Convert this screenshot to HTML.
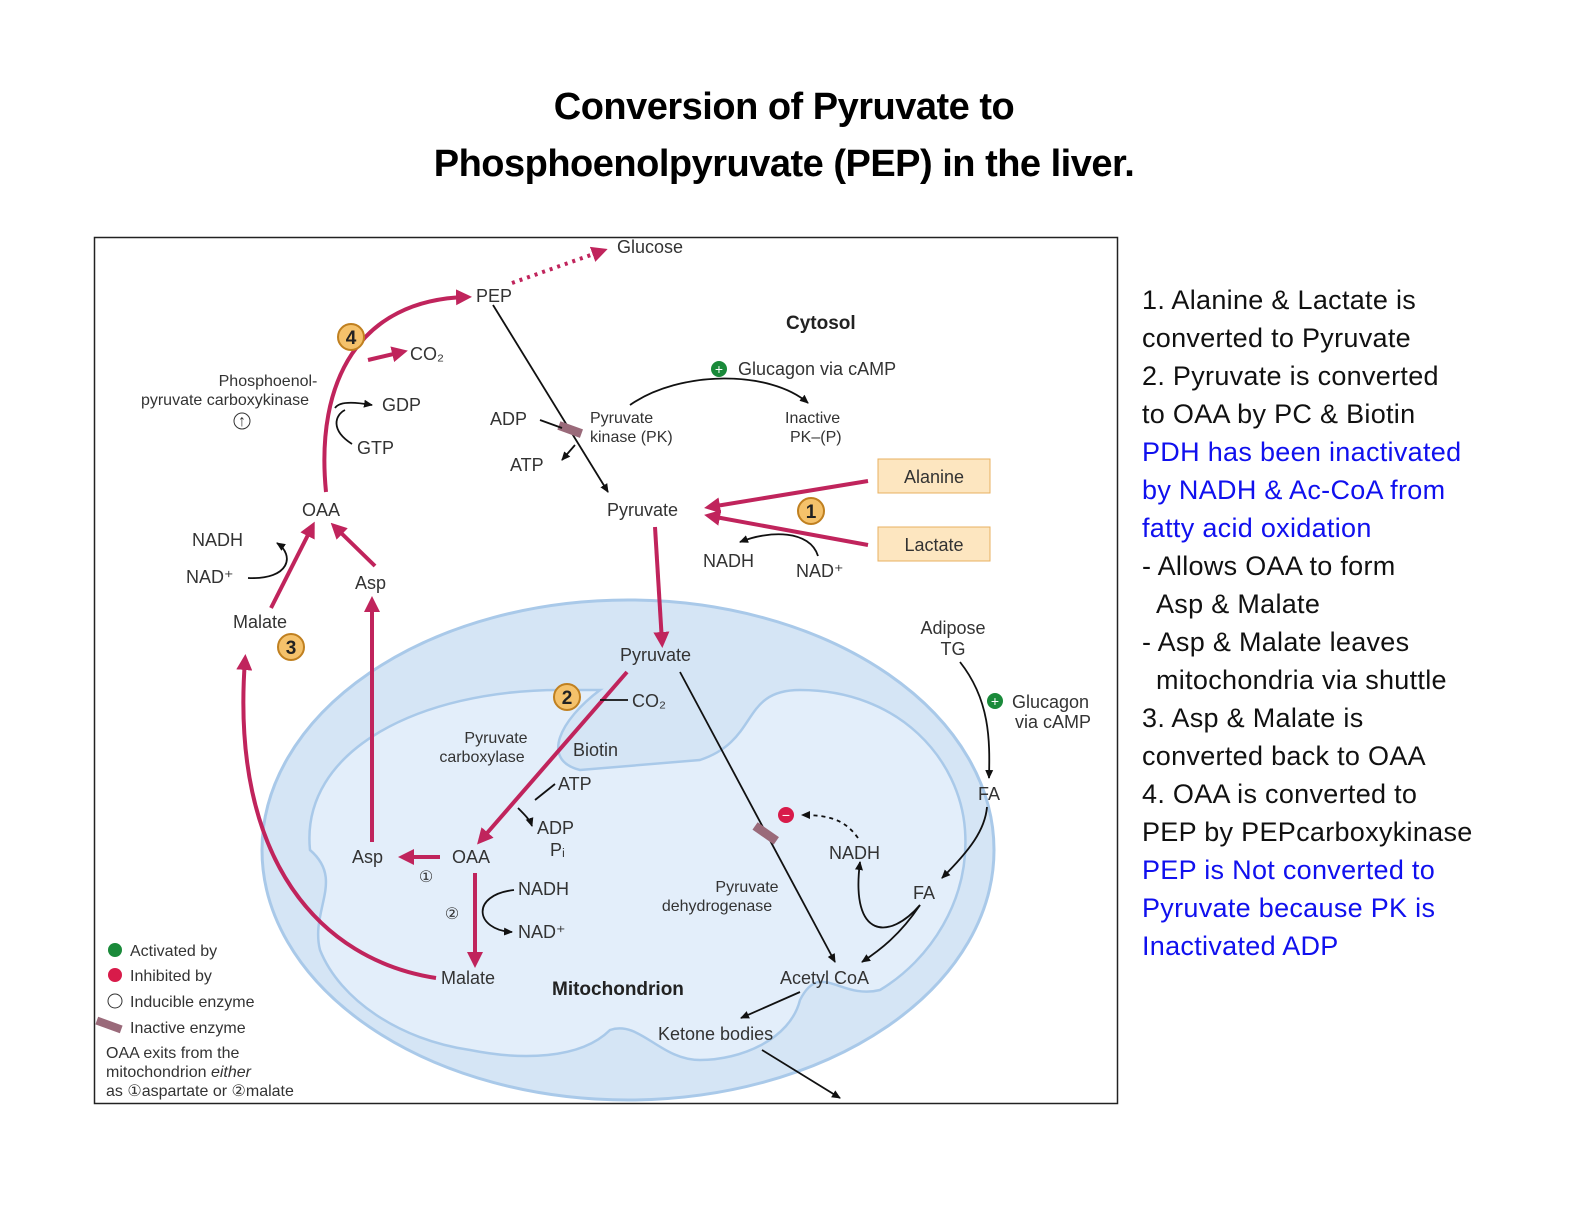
<!DOCTYPE html>
<html><head><meta charset="utf-8"><style>
html,body{margin:0;padding:0;background:#fff;}
svg{display:block;}
.t{font-family:"Liberation Sans",sans-serif;font-size:18px;fill:#333;}
.s{font-family:"Liberation Sans",sans-serif;font-size:16px;fill:#333;}
.b{font-family:"Liberation Sans",sans-serif;font-size:19px;font-weight:bold;fill:#222;}
.r{font-family:"Liberation Sans",sans-serif;font-size:27px;fill:#111;letter-spacing:0.3px;}
.bl{fill:#1010ee;}
.m{stroke:#c0245c;stroke-width:4;fill:none;}
.k{stroke:#111;stroke-width:1.8;fill:none;}
</style></head><body>
<svg width="1584" height="1224" viewBox="0 0 1584 1224" xmlns="http://www.w3.org/2000/svg">
<defs>
<marker id="ma" markerWidth="4" markerHeight="4" refX="2.5" refY="2" orient="auto" markerUnits="strokeWidth"><path d="M0,0 L4,2 L0,4 z" fill="#c0245c"/></marker>
<marker id="ka" markerWidth="10" markerHeight="10" refX="8" refY="5" orient="auto" markerUnits="userSpaceOnUse"><path d="M0,1 L9,5 L0,9 z" fill="#111"/></marker>
</defs>
<g>
<text x="784" y="119" text-anchor="middle" style="font-family:'Liberation Sans',sans-serif;font-weight:bold;font-size:38px;letter-spacing:-0.5px" fill="#000">Conversion of Pyruvate to</text>
<text x="784" y="176" text-anchor="middle" style="font-family:'Liberation Sans',sans-serif;font-weight:bold;font-size:38px;letter-spacing:-0.5px" fill="#000">Phosphoenolpyruvate (PEP) in the liver.</text>
</g>
<rect x="94.5" y="237.5" width="1023" height="866" fill="#fff" stroke="#222" stroke-width="1.5"/>
<g>
<ellipse cx="628" cy="850" rx="366" ry="250" fill="#d5e5f5" stroke="#a9c9e9" stroke-width="3"/>
<path d="M310,850 C300,750 420,690 560,690 L600,690 C560,720 540,760 580,770 L700,760 C760,740 740,690 800,690 C900,690 960,760 965,830 C970,900 930,960 880,990 C840,1000 820,960 800,1000 C790,1040 740,1060 700,1060 C660,1060 640,1020 610,1030 C580,1060 520,1060 470,1050 C400,1040 340,1000 320,950 C310,910 345,880 310,850 Z" fill="#e3eefa" stroke="#a9c9e9" stroke-width="2.5"/>
</g>
<g>
<path d="M512,283 L602,251" stroke="#c0245c" stroke-width="4" stroke-dasharray="3,5" fill="none" marker-end="url(#ma)"/>
<path class="m" d="M326,492 C315,380 360,300 466,297" marker-end="url(#ma)"/>
<path class="m" d="M368,360 L402,352" marker-end="url(#ma)"/>
<path class="k" d="M335,408 C340,400 360,403 372,405" marker-end="url(#ka)"/>
<path class="k" d="M352,444 C330,430 335,415 345,410"/>
<path class="k" d="M493,305 L608,492" marker-end="url(#ka)"/>
<rect x="558" y="425" width="24" height="9" fill="#9a6a7a" transform="rotate(20 570 430)"/>
<path class="k" d="M540,420 L562,428"/>
<path class="k" d="M575,445 L562,460" marker-end="url(#ka)"/>
<path class="k" d="M630,405 C680,370 770,370 808,403" marker-end="url(#ka)"/>
<path class="m" d="M868,481 L710,507" marker-end="url(#ma)"/>
<path class="m" d="M868,545 L710,516" marker-end="url(#ma)"/>
<path class="k" d="M818,556 C810,530 770,530 740,542" marker-end="url(#ka)"/>
<path class="m" d="M271,608 L312,527" marker-end="url(#ma)"/>
<path class="m" d="M375,566 L335,527" marker-end="url(#ma)"/>
<path class="k" d="M248,578 C290,580 295,555 277,543" marker-end="url(#ka)"/>
<path class="m" d="M372,842 L372,602" marker-end="url(#ma)"/>
<path class="m" d="M436,978 C320,960 230,860 245,660" marker-end="url(#ma)"/>
<path class="m" d="M655,527 L662,642" marker-end="url(#ma)"/>
<path class="m" d="M627,672 L481,840" marker-end="url(#ma)"/>
<path class="k" d="M600,700 L628,700"/>
<path class="k" d="M555,784 L535,800"/>
<path class="k" d="M518,808 C525,815 530,820 532,826" marker-end="url(#ka)"/>
<path class="m" d="M440,857 L404,857" marker-end="url(#ma)"/>
<path class="m" d="M475,873 L475,962" marker-end="url(#ma)"/>
<path class="k" d="M514,890 C470,895 475,930 512,932" marker-end="url(#ka)"/>
<path class="k" d="M680,672 L835,962" marker-end="url(#ka)"/>
<rect x="753" y="829" width="26" height="9" fill="#9a6a7a" transform="rotate(35 766 833)"/>
<path d="M858,838 C845,820 830,815 802,815" stroke="#111" stroke-width="1.8" fill="none" stroke-dasharray="4,4" marker-end="url(#ka)"/>
<path class="k" d="M920,905 C890,940 850,940 860,862" marker-end="url(#ka)"/>
<path class="k" d="M920,905 C900,935 880,950 862,962" marker-end="url(#ka)"/>
<path class="k" d="M960,662 C990,700 990,740 989,778" marker-end="url(#ka)"/>
<path class="k" d="M987,807 C985,830 970,850 942,878" marker-end="url(#ka)"/>
<path class="k" d="M800,992 L741,1018" marker-end="url(#ka)"/>
<path class="k" d="M762,1050 L840,1098" marker-end="url(#ka)"/>
</g>
<g>
<circle cx="351" cy="337" r="13" fill="#f5c26b" stroke="#c08020" stroke-width="2"/><text class="b" x="351" y="344" text-anchor="middle">4</text>
<circle cx="811" cy="511" r="13" fill="#f5c26b" stroke="#c08020" stroke-width="2"/><text class="b" x="811" y="518" text-anchor="middle">1</text>
<circle cx="291" cy="647" r="13" fill="#f5c26b" stroke="#c08020" stroke-width="2"/><text class="b" x="291" y="654" text-anchor="middle">3</text>
<circle cx="567" cy="697" r="13" fill="#f5c26b" stroke="#c08020" stroke-width="2"/><text class="b" x="567" y="704" text-anchor="middle">2</text>
</g>
<g>
<rect x="878" y="459" width="112" height="34" fill="#fde6c0" stroke="#e8b060"/>
<rect x="878" y="527" width="112" height="34" fill="#fde6c0" stroke="#e8b060"/>
<text class="t" x="934" y="483" text-anchor="middle">Alanine</text>
<text class="t" x="934" y="551" text-anchor="middle">Lactate</text>
</g>
<g>
<text class="t" x="617" y="253">Glucose</text>
<text class="t" x="476" y="302">PEP</text>
<text class="t" x="410" y="360">CO₂</text>
<text class="t" x="382" y="411">GDP</text>
<text class="t" x="357" y="454">GTP</text>
<text class="s" x="268" y="386" text-anchor="middle">Phosphoenol-</text>
<text class="s" x="225" y="405" text-anchor="middle">pyruvate carboxykinase</text>
<circle cx="242" cy="421" r="8" fill="none" stroke="#333"/><text class="s" x="242" y="426" text-anchor="middle" font-size="12">↑</text>
<text class="b" x="786" y="329">Cytosol</text>
<circle cx="719" cy="369" r="8" fill="#1a8a3a"/><text x="719" y="374" text-anchor="middle" fill="#fff" font-size="14" font-family="Liberation Sans">+</text>
<text class="t" x="738" y="375">Glucagon via cAMP</text>
<text class="t" x="490" y="425">ADP</text>
<text class="t" x="510" y="471">ATP</text>
<text class="s" x="590" y="423">Pyruvate</text>
<text class="s" x="590" y="442">kinase (PK)</text>
<text class="s" x="785" y="423">Inactive</text>
<text class="s" x="790" y="442">PK–(P)</text>
<text class="t" x="607" y="516">Pyruvate</text>
<text class="t" x="703" y="567">NADH</text>
<text class="t" x="796" y="577">NAD⁺</text>
<text class="t" x="302" y="516">OAA</text>
<text class="t" x="192" y="546">NADH</text>
<text class="t" x="186" y="583">NAD⁺</text>
<text class="t" x="233" y="628">Malate</text>
<text class="t" x="355" y="589">Asp</text>
<text class="t" x="620" y="661">Pyruvate</text>
<text class="t" x="632" y="707">CO₂</text>
<text class="s" x="496" y="743" text-anchor="middle">Pyruvate</text>
<text class="s" x="482" y="762" text-anchor="middle">carboxylase</text>
<text class="t" x="573" y="756">Biotin</text>
<text class="t" x="558" y="790">ATP</text>
<text class="t" x="537" y="834">ADP</text>
<text class="t" x="550" y="856">Pᵢ</text>
<text class="t" x="352" y="863">Asp</text>
<text class="t" x="452" y="863">OAA</text>
<text class="s" x="426" y="882" text-anchor="middle">①</text>
<text class="s" x="452" y="919" text-anchor="middle">②</text>
<text class="t" x="518" y="895">NADH</text>
<text class="t" x="518" y="938">NAD⁺</text>
<text class="t" x="441" y="984">Malate</text>
<text class="b" x="552" y="995">Mitochondrion</text>
<text class="s" x="747" y="892" text-anchor="middle">Pyruvate</text>
<text class="s" x="717" y="911" text-anchor="middle">dehydrogenase</text>
<circle cx="786" cy="815" r="8" fill="#d81b4a"/><text x="786" y="820" text-anchor="middle" fill="#fff" font-size="14" font-family="Liberation Sans">−</text>
<text class="t" x="829" y="859">NADH</text>
<text class="t" x="953" y="634" text-anchor="middle">Adipose</text>
<text class="t" x="953" y="655" text-anchor="middle">TG</text>
<circle cx="995" cy="701" r="8" fill="#1a8a3a"/><text x="995" y="706" text-anchor="middle" fill="#fff" font-size="14" font-family="Liberation Sans">+</text>
<text class="t" x="1012" y="708">Glucagon</text>
<text class="t" x="1015" y="728">via cAMP</text>
<text class="t" x="978" y="800">FA</text>
<text class="t" x="913" y="899">FA</text>
<text class="t" x="780" y="984">Acetyl CoA</text>
<text class="t" x="658" y="1040">Ketone bodies</text>
</g>
<g>
<circle cx="115" cy="950" r="7" fill="#1a8a3a"/>
<text class="s" x="130" y="956">Activated by</text>
<circle cx="115" cy="975" r="7" fill="#d81b4a"/>
<text class="s" x="130" y="981">Inhibited by</text>
<circle cx="115" cy="1001" r="7" fill="none" stroke="#333"/>
<text class="s" x="130" y="1007">Inducible enzyme</text>
<rect x="96" y="1021" width="26" height="8" fill="#9a6a7a" transform="rotate(20 109 1025)"/>
<text class="s" x="130" y="1033">Inactive enzyme</text>
<text class="s" x="106" y="1058">OAA exits from the</text>
<text class="s" x="106" y="1077">mitochondrion <tspan font-style="italic">either</tspan></text>
<text class="s" x="106" y="1096">as ①aspartate or ②malate</text>
</g>
<g>
<text class="r" x="1142" y="309">1. Alanine &amp; Lactate is</text>
<text class="r" x="1142" y="347">converted to Pyruvate</text>
<text class="r" x="1142" y="385">2. Pyruvate is converted</text>
<text class="r" x="1142" y="423">to OAA by PC &amp; Biotin</text>
<text class="r bl" x="1142" y="461">PDH has been inactivated</text>
<text class="r bl" x="1142" y="499">by NADH &amp; Ac-CoA from</text>
<text class="r bl" x="1142" y="537">fatty acid oxidation</text>
<text class="r" x="1142" y="575">- Allows OAA to form</text>
<text class="r" x="1156" y="613">Asp &amp; Malate</text>
<text class="r" x="1142" y="651">- Asp &amp; Malate leaves</text>
<text class="r" x="1156" y="689">mitochondria via shuttle</text>
<text class="r" x="1142" y="727">3. Asp &amp; Malate is</text>
<text class="r" x="1142" y="765">converted back to OAA</text>
<text class="r" x="1142" y="803">4. OAA is converted to</text>
<text class="r" x="1142" y="841">PEP by PEPcarboxykinase</text>
<text class="r bl" x="1142" y="879">PEP is Not converted to</text>
<text class="r bl" x="1142" y="917">Pyruvate because PK is</text>
<text class="r bl" x="1142" y="955">Inactivated ADP</text>
</g>
</svg>
</body></html>
